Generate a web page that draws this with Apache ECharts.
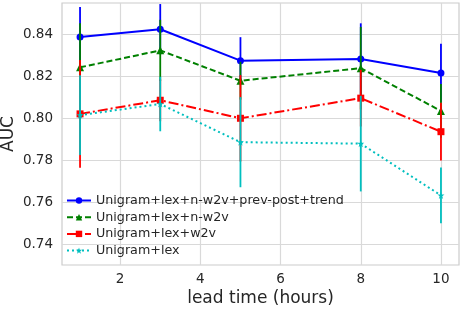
<!DOCTYPE html>
<html><head><meta charset="utf-8">
<script src="https://cdn.jsdelivr.net/npm/echarts@6/dist/echarts.min.js"></script>
<style>html,body{margin:0;padding:0;background:#fff}#c{width:463px;height:310px}</style>
</head><body><div id="c"></div>
<script>
const leadTimes = [1, 3, 5, 8, 10];
const seriesNames = ['Unigram+lex+n-w2v+prev-post+trend', 'Unigram+lex+n-w2v', 'Unigram+lex+w2v', 'Unigram+lex'];
const aucFull = [0.8388, 0.8425, 0.8275, 0.8283, 0.8216];
const errFull = [0.0143, 0.0120, 0.0112, 0.0170, 0.0140];
const aucNw2v = [0.8243, 0.8324, 0.8179, 0.8239, 0.8035];
const errNw2v = [0.0210, 0.0146, 0.0090, 0.0197, 0.0128];
const aucW2v = [0.8021, 0.8086, 0.8000, 0.8096, 0.7936];
const errW2v = [0.0257, 0.0100, 0.0206, 0.0135, 0.0138];
const aucLex = [0.8015, 0.8068, 0.7886, 0.7879, 0.7632];
const errLex = [0.0190, 0.0130, 0.0215, 0.0228, 0.0133];
const xTicks = [2, 4, 6, 8, 10];
const yTicks = [0.74, 0.76, 0.78, 0.80, 0.82, 0.84];

const starPath = 'path://M50,0 L61.8,35.4 L100,35.4 L69.1,57.3 L80.9,92.7 L50,70.8 L19.1,92.7 L30.9,57.3 L0,35.4 L38.2,35.4 Z';
const styles = [
  {color: '#0000ff', type: 'solid', symbol: 'circle', size: 7},
  {color: '#008000', type: [6, 3], symbol: 'triangle', size: 8},
  {color: '#ff0000', type: [10, 3, 2, 3], symbol: 'rect', size: 7},
  {color: '#00bfbf', type: [2, 3], symbol: starPath, size: 7}
];
const values = [aucFull, aucNw2v, aucW2v, aucLex];
const errors = [errFull, errNw2v, errW2v, errLex];

const series = [];
values.forEach((vals, i) => {
  const st = styles[i];
  series.push({
    name: seriesNames[i] + ' err',
    type: 'custom',
    z: 2 * i + 1,
    silent: true,
    data: leadTimes.map((x, k) => [x, vals[k] - errors[i][k], vals[k] + errors[i][k]]),
    encode: {x: 0, y: [1, 2]},
    renderItem: (params, api) => {
      const p1 = api.coord([api.value(0), api.value(1)]);
      const p2 = api.coord([api.value(0), api.value(2)]);
      return {type: 'line', shape: {x1: p1[0], y1: p1[1], x2: p2[0], y2: p2[1]},
        style: {stroke: st.color, lineWidth: 1.8}};
    }
  });
  series.push({
    name: seriesNames[i],
    type: 'line',
    z: 2 * i + 2,
    data: leadTimes.map((x, k) => [x, vals[k]]),
    symbol: st.symbol,
    symbolSize: st.size,
    showAllSymbol: true,
    itemStyle: {color: st.color, borderWidth: 0},
    lineStyle: {color: st.color, width: 2, type: st.type},
    emphasis: {disabled: true},
    animation: false
  });
});

const chart = echarts.init(document.getElementById('c'), null, {renderer: 'canvas'});
chart.setOption({
  animation: false,
  backgroundColor: '#ffffff',
  grid: {left: 62, right: 4, top: 3, bottom: 45, containLabel: false, outerBoundsMode: 'none',
    show: true, borderColor: '#cccccc', borderWidth: 1.2},
  legend: {
    data: seriesNames,
    orient: 'vertical',
    left: 66, top: 194, padding: 0,
    itemWidth: 24, itemHeight: 8, itemGap: 3.7,
    textStyle: {fontFamily: 'DejaVu Sans', fontSize: 12.7, color: '#262626', lineHeight: 13}
  },
  xAxis: {
    type: 'value', min: 0.55, max: 10.45,
    name: 'lead time (hours)', nameLocation: 'middle', nameGap: 25, nameMoveOverlap: false,
    nameTextStyle: {fontFamily: 'DejaVu Sans', fontSize: 17, color: '#262626', verticalAlign: 'top'},
    axisLine: {show: false}, axisTick: {show: false, customValues: xTicks},
    axisLabel: {customValues: xTicks, fontFamily: 'DejaVu Sans', fontSize: 13.5, color: '#262626', margin: 7},
    splitLine: {show: true, lineStyle: {color: '#d9d9d9', width: 1.2}}
  },
  yAxis: {
    type: 'value', min: 0.73, max: 0.855,
    name: 'AUC', nameLocation: 'middle', nameGap: 45, nameRotate: 90, nameMoveOverlap: false,
    nameTextStyle: {fontFamily: 'DejaVu Sans', fontSize: 17, color: '#262626'},
    axisLine: {show: false}, axisTick: {show: false, customValues: yTicks},
    axisLabel: {customValues: yTicks, fontFamily: 'DejaVu Sans', fontSize: 13.5, color: '#262626', margin: 9,
      formatter: v => v.toFixed(2)},
    splitLine: {show: true, lineStyle: {color: '#d9d9d9', width: 1.2}}
  },
  series: series
});
</script></body></html>
